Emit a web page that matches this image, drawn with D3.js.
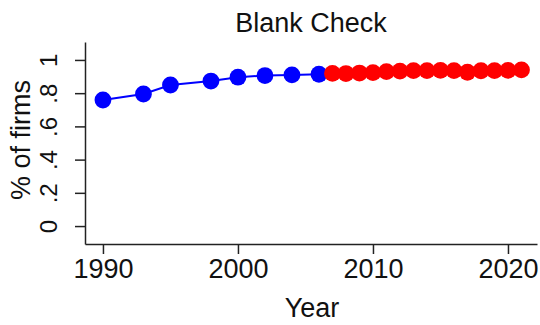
<!DOCTYPE html>
<html>
<head>
<meta charset="utf-8">
<script src="https://cdn.jsdelivr.net/npm/d3@7/dist/d3.min.js"></script>
<style>
  html, body { margin: 0; padding: 0; background: #fff; }
  svg { display: block; font-family: "Liberation Sans", Arial, sans-serif; }
</style>
</head>
<body>
<svg id="chart" width="540" height="325"></svg>
<script>
const title = "Blank Check";
const xLabel = "Year";
const yLabel = "% of firms";

const blueYears = [1990, 1993, 1995, 1998, 2000, 2002, 2004, 2006];
const blueValues = [0.759, 0.795, 0.849, 0.873, 0.896, 0.906, 0.910, 0.914];

const redYears = [2007, 2008, 2009, 2010, 2011, 2012, 2013, 2014, 2015, 2016, 2017, 2018, 2019, 2020, 2021];
const redValues = [0.919, 0.918, 0.921, 0.924, 0.930, 0.933, 0.936, 0.936, 0.937, 0.936, 0.926, 0.935, 0.936, 0.937, 0.940];

const xTicks = [1990, 2000, 2010, 2020];
const yTicks = [0, 0.2, 0.4, 0.6, 0.8, 1];
const yTickLabels = ["0", ".2", ".4", ".6", ".8", "1"];

const svg = d3.select("#chart");
const mLeft = 85, mRight = 537, mTop = 42, mBottom = 244;

const x = d3.scaleLinear().domain([1988.67, 2022.15]).range([mLeft, mRight]);
const y = d3.scaleLinear().domain([-0.108, 1.108]).range([mBottom, mTop]);

const axisColor = "#222";

// x axis
const xAxis = svg.append("g").attr("transform", `translate(0,${mBottom})`)
  .call(d3.axisBottom(x).tickValues(xTicks).tickFormat(d3.format("d")).tickSize(10).tickPadding(5).tickSizeOuter(0));
xAxis.select(".domain").attr("stroke", axisColor).attr("stroke-width", 1.5);
xAxis.selectAll(".tick line").attr("stroke", axisColor).attr("stroke-width", 1.5);
xAxis.selectAll(".tick text").attr("fill", "#111").style("font-size", "27px")
  .style("font-family", "Liberation Sans, Arial, sans-serif");

// y axis
const yAxis = svg.append("g").attr("transform", `translate(${mLeft},0)`)
  .call(d3.axisLeft(y).tickValues(yTicks).tickFormat((d, i) => yTickLabels[i]).tickSize(10).tickPadding(0).tickSizeOuter(0));
yAxis.select(".domain").attr("stroke", axisColor).attr("stroke-width", 1.5);
yAxis.selectAll(".tick line").attr("stroke", axisColor).attr("stroke-width", 1.5);
yAxis.selectAll(".tick text")
  .attr("fill", "#111")
  .style("font-size", "24px")
  .style("font-family", "Liberation Sans, Arial, sans-serif")
  .attr("text-anchor", "middle")
  .attr("dy", null)
  .attr("x", null)
  .attr("transform", "translate(-28,0) rotate(-90)");

// blue line
const line = d3.line().x((d, i) => x(blueYears[i])).y(d => y(d));
svg.append("path").datum(blueValues)
  .attr("d", line).attr("fill", "none").attr("stroke", "#0000ff").attr("stroke-width", 2);

svg.append("g").selectAll("circle").data(blueValues).join("circle")
  .attr("cx", (d, i) => x(blueYears[i])).attr("cy", d => y(d)).attr("r", 8.4).attr("fill", "#0000ff");

svg.append("g").selectAll("circle").data(redValues).join("circle")
  .attr("cx", (d, i) => x(redYears[i])).attr("cy", d => y(d)).attr("r", 8.4).attr("fill", "#ff0000");

// title
svg.append("text").attr("x", 311).attr("y", 32).attr("text-anchor", "middle")
  .style("font-size", "27px").attr("fill", "#111").text(title);

// x label
svg.append("text").attr("x", 312).attr("y", 317).attr("text-anchor", "middle")
  .style("font-size", "27px").attr("fill", "#111").text(xLabel);

// y label
svg.append("text").attr("transform", "translate(30,140) rotate(-90)").attr("text-anchor", "middle")
  .style("font-size", "27px").attr("fill", "#111").text(yLabel);
</script>
</body>
</html>
